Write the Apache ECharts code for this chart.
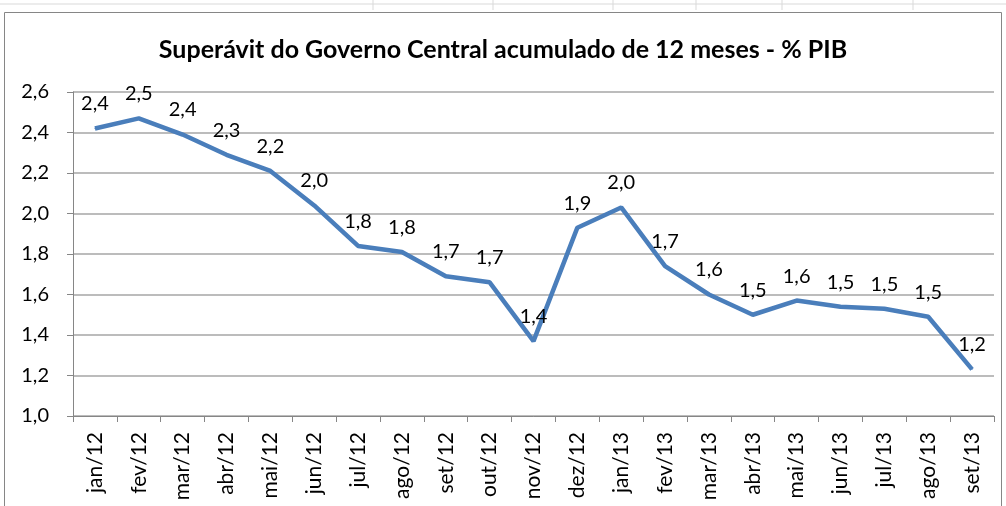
<!DOCTYPE html>
<html>
<head>
<meta charset="utf-8">
<script src="https://cdn.jsdelivr.net/npm/echarts@6/dist/echarts.min.js"></script>
<style>
  html, body { margin: 0; padding: 0; background: #fff; }
  #chart { width: 1006px; height: 506px; }
</style>
</head>
<body>
<div id="chart"></div>
<script>
const categories = [
  'jan/12', 'fev/12', 'mar/12', 'abr/12', 'mai/12', 'jun/12', 'jul/12',
  'ago/12', 'set/12', 'out/12', 'nov/12', 'dez/12', 'jan/13', 'fev/13',
  'mar/13', 'abr/13', 'mai/13', 'jun/13', 'jul/13', 'ago/13', 'set/13'
];
const superavit = [
  2.42, 2.47, 2.39, 2.29, 2.21, 2.04, 1.84, 1.81, 1.69, 1.66, 1.37,
  1.93, 2.03, 1.74, 1.60, 1.50, 1.57, 1.54, 1.53, 1.49, 1.23
];
const chartTitle = 'Superávit do Governo Central acumulado de 12 meses - % PIB';

const fmt = v => Number(v).toFixed(1).replace('.', ',');
const fontFam = 'Lato, "Open Sans", sans-serif';

const chart = echarts.init(document.getElementById('chart'));

// sheet gridlines peeking above the chart box
const sheetLines = [373, 493, 613, 696, 782, 913].map(x => ({
  type: 'line', shape: { x1: x, y1: 0, x2: x, y2: 10 },
  style: { stroke: '#d9d9d9', lineWidth: 1 }, silent: true
}));

chart.setOption({
  animation: false,
  title: {
    text: chartTitle,
    left: 'center',
    top: 32,
    textStyle: { fontFamily: fontFam, fontSize: 25, fontWeight: 'bold', color: '#000' }
  },
  graphic: [
    { type: 'line', shape: { x1: 0, y1: 4, x2: 1006, y2: 4 }, style: { stroke: '#d9d9d9', lineWidth: 1 }, silent: true },
    ...sheetLines,
    {
      type: 'rect', shape: { x: 4.5, y: 12.5, width: 997, height: 500 },
      style: { fill: null, stroke: '#868686', lineWidth: 1 }, silent: true
    }
  ],
  grid: { left: 73, right: 12, top: 92, bottom: 90 },
  xAxis: {
    type: 'category',
    data: categories,
    boundaryGap: true,
    axisLine: { lineStyle: { color: '#868686', width: 1 } },
    axisTick: { show: true, inside: false, length: 6, lineStyle: { color: '#868686' } },
    axisLabel: { rotate: 90, color: '#000', fontFamily: fontFam, fontSize: 21, margin: 16, interval: 0 },
    splitLine: { show: false }
  },
  yAxis: {
    type: 'value',
    min: 1.0,
    max: 2.6,
    interval: 0.2,
    axisLine: { show: true, lineStyle: { color: '#868686', width: 1 } },
    axisTick: { show: true, inside: false, length: 6, lineStyle: { color: '#868686' } },
    axisLabel: { color: '#000', fontFamily: fontFam, fontSize: 20, margin: 24, formatter: v => fmt(v) },
    splitLine: { show: true, lineStyle: { color: '#a6a6a6', width: 1.5 } }
  },
  series: [{
    type: 'line',
    data: superavit,
    symbol: 'circle',
    symbolSize: 1,
    showSymbol: true,
    lineStyle: { color: '#4a7ebb', width: 4.5 },
    itemStyle: { color: '#4a7ebb' },
    label: {
      show: true,
      position: 'top',
      distance: 14,
      color: '#000',
      fontFamily: fontFam,
      fontSize: 20,
      formatter: p => fmt(p.value)
    }
  }]
});

window.addEventListener('resize', () => chart.resize());
</script>
</body>
</html>
